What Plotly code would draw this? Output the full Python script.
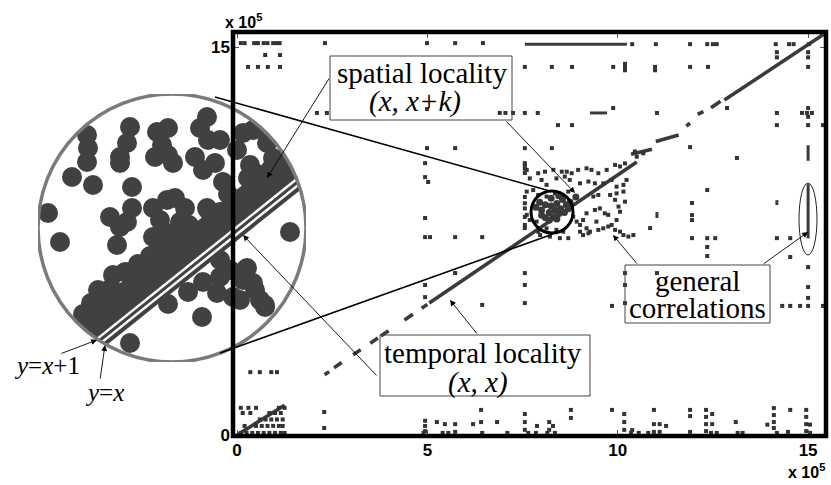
import plotly.graph_objects as go

W, H = 831, 485

# ---------------- data (addresses, units of 10^5) ----------------
x_tick_vals = [0, 5, 10, 15]
x_tick_text = ["0", "5", "10", "15"]
y_tick_vals = [0, 15]
y_tick_text = ["0", "15"]

# temporal locality: runs along the diagonal (start / end of each run)
diag_x0 = [0.00, 2.30, 2.55, 3.05, 3.50, 3.78, 4.40, 4.85, 5.05, 10.35, 11.00, 11.80, 12.10, 12.45, 12.80]
diag_y0 = [0.00, 2.33, 2.60, 3.10, 3.55, 3.83, 4.45, 4.90, 5.10, 10.85, 11.35, 11.95, 12.40, 12.65, 12.95]
diag_x1 = [1.25, 2.42, 2.75, 3.25, 3.70, 3.98, 4.62, 5.00, 10.50, 10.90, 11.60, 11.90, 12.25, 12.70, 15.42]
diag_y1 = [1.15, 2.45, 2.80, 3.30, 3.75, 4.03, 4.67, 5.05, 10.55, 11.05, 11.60, 12.05, 12.50, 12.90, 15.50]

# other streams (horizontal / vertical runs)
run_x0 = [7.56, 9.27, 14.18, 11.03, 15.00, 15.00]
run_y0 = [15.11, 12.45, 9.08, 8.62, 7.60, 10.60]
run_x1 = [10.24, 9.72, 14.18, 11.03, 15.00, 15.00]
run_y1 = [15.11, 12.45, 8.89, 8.39, 9.70, 11.20]

# spatial locality: hot region around the diagonal
cloud_x = [7.56, 7.61, 7.91, 8.09, 8.31, 8.53, 8.66, 8.79, 8.96, 9.18, 9.31, 9.49, 9.71, 9.93, 10.06, 10.19,
           10.45, 10.50, 10.67, 7.69, 8.00, 8.13, 8.39, 8.61, 8.74, 9.01, 9.23, 9.40, 9.62, 9.84, 9.97, 10.15,
           10.23, 7.61, 7.78, 7.91, 8.13, 8.35, 8.53, 8.70, 9.36, 9.49, 9.80, 9.97, 10.15, 10.19, 7.56, 7.61,
           7.69, 7.56, 7.87, 7.91, 8.13, 8.39, 8.57, 8.83, 8.92, 9.01, 9.09, 9.18, 9.18, 9.23, 9.40, 9.53,
           9.66, 9.75, 9.44, 9.49, 9.62, 9.75, 9.84, 9.93, 9.93, 10.02, 10.06, 9.97, 10.06, 10.15, 10.28, 10.41,
           7.96, 8.22, 8.48, 8.70, 9.01, 9.09, 9.27]
cloud_y = [10.44, 10.25, 10.12, 10.18, 10.25, 10.18, 10.18, 10.12, 10.25, 10.31, 10.25, 10.12, 10.25, 10.44, 10.38, 10.50,
           10.96, 10.76, 10.89, 9.92, 9.86, 9.67, 9.92, 9.99, 9.86, 9.73, 9.80, 9.73, 9.73, 9.86, 9.60, 9.67,
           9.86, 9.41, 9.47, 9.28, 9.22, 9.34, 9.22, 9.41, 9.22, 9.28, 9.28, 9.34, 9.41, 9.02, 8.76, 8.51,
           8.31, 8.12, 8.25, 7.86, 7.99, 7.93, 7.86, 8.44, 8.25, 8.12, 8.31, 8.57, 7.99, 7.80, 8.70, 8.76,
           8.57, 8.51, 8.25, 7.93, 7.99, 8.06, 8.12, 7.93, 9.09, 8.83, 8.63, 8.31, 7.86, 7.73, 7.67, 7.73,
           7.73, 7.67, 7.61, 7.61, 7.86, 7.73, 7.86]

# densest part (inside the magnified circle)
dense_x = [7.95, 8.10, 8.25, 8.40, 8.55, 8.00, 8.20, 8.35, 8.50, 8.65, 8.10, 8.30, 8.45, 8.60, 8.70, 8.00,
           8.25, 8.45, 7.85, 8.75, 8.90, 8.20, 8.40]
dense_y = [9.00, 8.90, 8.85, 8.95, 9.10, 8.70, 8.60, 8.70, 8.75, 8.90, 8.40, 8.45, 8.55, 8.60, 8.75, 8.50,
           9.15, 9.25, 8.80, 9.00, 9.20, 8.30, 8.35]

# general correlations and other scattered accesses
scat_x = [0.10, 0.20, 0.45, 0.55, 0.70, 0.80, 0.95, 1.05, 1.12, 2.31, 4.99, 5.73, 6.46,
          10.38, 11.00, 11.90, 12.35, 12.50, 12.60, 14.15, 14.50, 14.62, 15.02,
          0.74, 1.13, 14.18, 14.18, 15.00, 15.00,
          0.29, 0.55, 0.81, 1.13, 7.56, 8.27, 8.80, 9.88, 10.19, 10.19, 10.19, 10.98, 10.98, 11.90, 12.37, 15.00,
          2.10, 2.36, 4.99, 6.90, 7.05, 7.25, 7.56, 7.90, 9.88, 11.03, 14.18, 14.84, 14.97, 15.10, 15.00, 15.00,
          8.43, 8.80, 14.18, 15.00, 15.39,
          4.99, 5.73, 7.56, 8.27, 11.90, 13.13, 12.87,
          4.94, 4.94, 5.02, 4.94, 4.94, 5.07, 4.94, 4.94,
          7.56, 7.56, 7.56, 7.56, 7.56, 7.56, 7.56, 7.56, 7.56, 7.56,
          5.73, 6.44, 5.73, 6.44, 0.35, 0.60, 0.90, 1.05,
          11.95, 11.95, 11.95, 10.85, 11.95, 12.35, 12.56, 12.35, 12.35, 14.18, 14.53, 14.53,
          15.00, 15.00, 15.00, 15.00, 14.79, 14.53, 14.32, 15.39, 9.85, 10.19, 10.19, 10.19, 11.03, 12.35]
scat_y = [15.15, 15.15, 15.15, 15.15, 15.15, 15.15, 15.15, 15.15, 15.15, 15.15, 15.15, 15.15, 15.15,
          15.11, 15.11, 15.11, 15.11, 15.11, 15.11, 15.11, 15.11, 15.11, 15.11,
          14.69, 14.69, 14.60, 14.80, 14.60, 14.80,
          14.23, 14.23, 14.23, 14.23, 14.23, 14.23, 14.23, 14.23, 14.23, 14.10, 14.35, 14.23, 14.10, 14.23, 14.23, 14.23,
          12.45, 12.45, 12.60, 12.45, 12.45, 12.45, 12.45, 12.45, 12.64, 12.45, 12.45, 12.45, 12.45, 12.45, 12.64, 12.30,
          11.98, 11.98, 11.98, 11.98, 11.98,
          11.09, 11.09, 11.09, 11.09, 11.13, 10.71, 12.64,
          10.51, 9.97, 9.78, 8.39, 7.65, 7.65, 5.80, 5.33,
          10.51, 10.30, 10.13, 9.20, 8.96, 8.43, 8.00, 6.26, 5.80, 5.10,
          7.65, 7.65, 6.26, 5.03, 2.43, 2.43, 2.43, 2.43,
          8.97, 8.50, 8.31, 8.00, 7.61, 7.61, 7.61, 7.27, 6.92, 7.61, 7.61, 6.88,
          6.49, 5.72, 5.30, 4.99, 4.99, 4.99, 4.99, 4.99, 4.99, 6.26, 5.80, 5.10, 6.26, 9.47]

# accesses close to address 0 (bottom rows and corner cluster)
low_x = [0.10, 0.25, 0.40, 0.55, 0.70, 0.85, 1.00, 1.15, 1.25, 0.20, 0.50, 0.65, 0.80, 0.95, 1.10, 1.20,
         0.60, 0.75, 0.90, 1.05, 1.20, 0.15, 0.35, 0.85, 1.00, 1.15, 0.10, 0.30, 0.50, 1.10, 1.25,
         2.29, 2.29, 4.94, 4.94, 4.94, 5.25, 5.46, 5.73, 5.73, 6.20, 6.41, 6.41, 6.83, 7.56, 7.56, 7.56,
         7.88, 8.20, 8.20, 8.30, 8.77, 8.77, 9.85, 10.17, 10.17, 10.17, 10.38, 10.95, 10.95, 10.95, 11.10,
         11.10, 11.27, 11.90, 11.90, 11.90, 12.32, 12.32, 12.32, 12.32, 12.48, 12.48, 13.10, 14.10, 14.10,
         14.10, 14.10, 14.53, 14.47, 14.95, 14.95, 14.95, 14.95,
         4.90, 5.40, 5.55, 6.44, 7.10, 7.65, 7.85, 8.15, 8.35, 10.35, 10.55, 10.80, 12.45, 12.60, 13.15,
         13.28, 14.18, 15.05, 13.93, 15.05]
low_y = [0.08, 0.08, 0.08, 0.08, 0.08, 0.08, 0.08, 0.08, 0.08, 0.35, 0.35, 0.35, 0.35, 0.35, 0.35, 0.35,
         0.60, 0.60, 0.60, 0.60, 0.60, 0.85, 0.85, 0.85, 0.85, 0.85, 1.05, 1.05, 1.05, 1.05, 1.05,
         0.89, 0.27, 0.55, 0.35, 0.15, 0.50, 0.42, 0.42, 0.12, 0.42, 0.97, 0.50, 0.50, 0.81, 0.50, 0.20,
         0.35, 0.50, 0.20, 0.35, 0.97, 0.66, 0.97, 0.81, 0.50, 0.20, 0.19, 0.97, 0.42, 0.12, 0.42,
         0.12, 0.35, 0.97, 0.73, 0.12, 0.97, 0.70, 0.42, 0.15, 0.81, 0.42, 0.50, 1.04, 0.77,
         0.50, 0.27, 0.97, 0.12, 0.97, 0.70, 0.42, 0.15,
         0.08, 0.08, 0.08, 0.08, 0.08, 0.08, 0.08, 0.08, 0.08, 0.08, 0.08, 0.08, 0.08, 0.08, 0.08,
         0.08, 0.08, 0.08, 0.40, 0.40]

# magnified view (inset, in inset units) : blobs of accesses
blob_u = [92, 89, 82, 82, 49, 50, 49, 34, 55, 94, 119, 130, 124, 117, 130, 135, 162, 170, 157, 165, 177, 185,
          182, 215, 229, 235, 217, 229, 10, 22, 72, 82, 94, 89, 79, 115, 129, 137, 147, 142, 122, 115, 129,
          140, 119, 109, 99, 87, 75, 169, 182, 190, 175, 155, 155, 142, 130, 182, 192, 209, 215, 222, 227,
          205, 182, 179, 195, 164, 92, 212, 232, 227, 252, 207, 217, 227, 202, 169, 205, 219, 199, 60, 66,
          53, 73, 92, 112, 131, 151, 170, 190, 210, 130, 150, 165, 45, 64, 100]
blob_v = [235, 219, 205, 199, 227, 214, 200, 185, 177, 175, 230, 234, 217, 205, 207, 199, 234, 222, 205, 192, 199, 180,
          222, 232, 219, 204, 189, 177, 149, 120, 145, 135, 154, 140, 117, 154, 162, 164, 154, 140, 142, 125, 129,
          125, 109, 99, 94, 90, 87, 154, 150, 140, 135, 132, 115, 109, 102, 102, 92, 94, 79, 62, 55,
          82, 85, 69, 65, 45, 19, 197, 192, 177, 130, 92, 72, 57, 62, 245, 229, 235, 212, 72, 60,
          59, 74, 90, 106, 121, 137, 152, 168, 184, 58, 70, 80, 48, 66, 98]
band_u = [43.8, 262.4]
band_v = [22.7, 197.7]
line_u = [43.4, 277.8]
line_v = [7.0, 194.6]


def runs(x0, y0, x1, y1):
    xs, ys = [], []
    for a, b, c, d in zip(x0, y0, x1, y1):
        xs += [a, c, None]
        ys += [b, d, None]
    return xs, ys


INK = "#333333"
BLOB = "#414141"

fig = go.Figure()
dx, dy = runs(diag_x0, diag_y0, diag_x1, diag_y1)
fig.add_trace(go.Scatter(x=dx, y=dy, mode="lines", line=dict(color="#3a3a3a", width=3.6),
                         hoverinfo="skip"))
rx, ry = runs(run_x0, run_y0, run_x1, run_y1)
fig.add_trace(go.Scatter(x=rx, y=ry, mode="lines", line=dict(color="#3a3a3a", width=3),
                         hoverinfo="skip"))
fig.add_trace(go.Scatter(x=cloud_x, y=cloud_y, mode="markers",
                         marker=dict(symbol="square", size=4, color=INK)))
fig.add_trace(go.Scatter(x=dense_x, y=dense_y, mode="markers",
                         marker=dict(symbol="circle", size=7, color="#3a3a3a")))
fig.add_trace(go.Scatter(x=scat_x, y=scat_y, mode="markers",
                         marker=dict(symbol="square", size=4, color=INK)))
fig.add_trace(go.Scatter(x=low_x, y=low_y, mode="markers",
                         marker=dict(symbol="square", size=4, color=INK)))

# inset
fig.add_trace(go.Scatter(x=band_u, y=band_v, mode="lines", line=dict(color=BLOB, width=40),
                         xaxis="x2", yaxis="y2", hoverinfo="skip"))
fig.add_trace(go.Scatter(x=blob_u, y=blob_v, mode="markers",
                         marker=dict(size=20, color=BLOB, line=dict(width=0)),
                         xaxis="x2", yaxis="y2", hoverinfo="skip"))
fig.add_trace(go.Scatter(x=line_u, y=line_v, mode="lines", line=dict(color="white", width=8),
                         xaxis="x2", yaxis="y2", hoverinfo="skip"))
fig.add_trace(go.Scatter(x=line_u, y=line_v, mode="lines", line=dict(color=BLOB, width=3),
                         xaxis="x2", yaxis="y2", hoverinfo="skip"))


def PX(x):
    return x / W


def PY(y):
    return 1 - y / H


tickfont = dict(family="Liberation Sans", size=17, color="black", weight="bold")
fig.update_layout(
    width=W, height=H, margin=dict(l=0, r=0, t=0, b=0, autoexpand=False),
    paper_bgcolor="white", plot_bgcolor="rgba(0,0,0,0)", showlegend=False,
    xaxis=dict(domain=[PX(233), PX(826)], range=[-0.105, 15.47], tickvals=x_tick_vals,
               ticktext=x_tick_text, showgrid=False, zeroline=False, showline=False,
               ticks="inside", ticklen=6, tickcolor="#555", mirror="ticks",
               tickfont=tickfont, ticklabelstandoff=2, automargin=False),
    yaxis=dict(domain=[PY(436), PY(32)], range=[-0.039, 15.58], tickvals=y_tick_vals,
               ticktext=y_tick_text, showgrid=False, zeroline=False, showline=False,
               ticks="inside", ticklen=6, tickcolor="#555", mirror="ticks",
               tickfont=tickfont, ticklabelstandoff=2, automargin=False),
    xaxis2=dict(domain=[PX(38), PX(306)], range=[0, 268], visible=False, anchor="y2",
                automargin=False),
    yaxis2=dict(domain=[PY(362), PY(94)], range=[0, 268], visible=False, anchor="x2",
                automargin=False),
)

shapes = []
# white mask around the magnified circle
shapes.append(dict(type="circle", xref="x2", yref="y2", x0=-12, y0=-12, x1=280, y1=280,
                   line=dict(color="white", width=24), layer="above"))
shapes.append(dict(type="circle", xref="x2", yref="y2", x0=0, y0=0, x1=268, y1=268,
                   line=dict(color="#7a7a7a", width=3.5), layer="above"))
# frame
shapes.append(dict(type="rect", xref="x domain", yref="y domain", x0=0, y0=0, x1=1, y1=1,
                   line=dict(color="black", width=4.5), layer="above"))
# magnifier lines
for (xa, ya, xb, yb) in [(215, 97, 550, 191), (220, 353, 553, 234)]:
    shapes.append(dict(type="line", xref="paper", yref="paper", x0=PX(xa), y0=PY(ya),
                       x1=PX(xb), y1=PY(yb), line=dict(color="black", width=1.6), layer="above"))
# small circle and ellipse
shapes.append(dict(type="circle", xref="paper", yref="paper", x0=PX(531), y0=PY(233),
                   x1=PX(573), y1=PY(191), line=dict(color="black", width=3), layer="above"))
shapes.append(dict(type="circle", xref="paper", yref="paper", x0=PX(799), y0=PY(255),
                   x1=PX(817), y1=PY(183), line=dict(color="#222", width=1), layer="above"))
# label boxes
for (xa, ya, xb, yb) in [(330, 56, 512, 120), (380, 335, 590, 396), (625, 265, 770, 323)]:
    shapes.append(dict(type="rect", xref="paper", yref="paper", x0=PX(xa), y0=PY(yb),
                       x1=PX(xb), y1=PY(ya), line=dict(color="#444", width=1), layer="above"))
fig.update_layout(shapes=shapes)

serif = "Liberation Serif"
ann = []


def label(text, x, y, size, family=serif, weight="normal"):
    ann.append(dict(text=text, x=PX(x), y=PY(y), xref="paper", yref="paper", showarrow=False,
                    xanchor="center", yanchor="middle",
                    font=dict(family=family, size=size, color="black", weight=weight)))


def arrow(tx, ty, hx, hy):
    ann.append(dict(text="", x=PX(hx), y=PY(hy), xref="paper", yref="paper", showarrow=True,
                    ax=tx - hx, ay=ty - hy, arrowhead=2, arrowsize=1.3, arrowwidth=0.9,
                    arrowcolor="black", standoff=0, startstandoff=0))


label("spatial locality", 422, 73, 29)
label("<i>(x, x+k)</i>", 415, 101, 29)
label("temporal locality", 483, 353, 29)
label("<i>(x, x)</i>", 478, 382, 29)
label("general", 697, 281, 29)
label("correlations", 697, 308, 29)
label("<i>y</i>=<i>x</i>+1", 47, 365, 25)
label("<i>y</i>=<i>x</i>", 104, 392, 25)
label("x 10<sup>5</sup>", 243, 21, 16, family="Liberation Sans", weight="bold")
label("x 10<sup>5</sup>", 806, 471, 16, family="Liberation Sans", weight="bold")

arrow(330, 77, 267, 178)
arrow(505, 120, 575, 193)
arrow(478, 335, 450, 300)
arrow(378, 377, 243, 235)
arrow(638, 265, 613, 235)
arrow(762, 265, 808, 232)
arrow(60, 354, 97, 340)
arrow(100, 380, 105, 345)
fig.update_layout(annotations=ann)

fig.write_html("out.html", config={"displayModeBar": False},
               post_script="document.body.style.margin='0px';")
